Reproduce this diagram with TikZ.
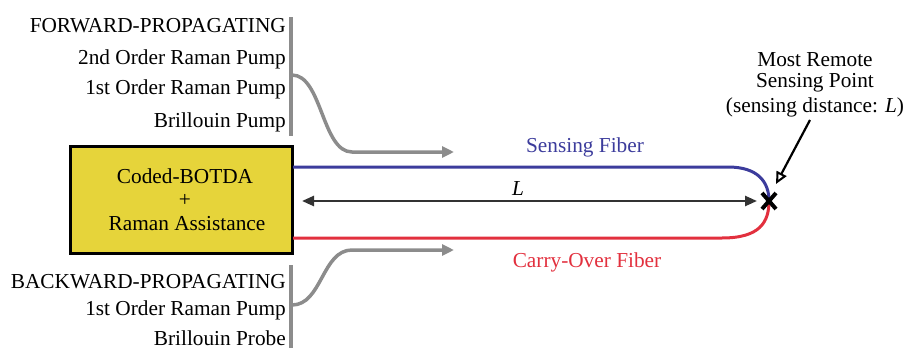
\documentclass[tikz,border=0pt]{standalone}
\usepackage{fontspec}
\setmainfont{Liberation Serif}
\usetikzlibrary{arrows.meta,calc}
\definecolor{boxyellow}{HTML}{E6D43A}
\definecolor{fibblue}{HTML}{3C3C9C}
\definecolor{fibred}{HTML}{E2303E}
\definecolor{pumpgray}{HTML}{8C8C8C}
\tikzset{
  lbl/.style={font=\fontsize{21.3}{25}\selectfont, inner sep=0pt},
  rlbl/.style={lbl, anchor=base east},
  bar/.style={draw=pumpgray, line width=3.5pt},
  pump/.style={draw=pumpgray, line width=3.5pt, -{Triangle[length=12pt,width=11pt]}},
}
\begin{document}
\begin{tikzpicture}[x=1pt,y=-1pt]
\useasboundingbox (0,0) rectangle (905,348);
% forward labels
\node[rlbl] (fwd) at (286,32) {FORWARD-PROPAGATING};
\node[rlbl] (f2) at (286,64) {2nd Order Raman Pump};
\node[rlbl] (f1) at (286,94) {1st Order Raman Pump};
\node[rlbl] (fb) at (286,127) {Brillouin Pump};
\coordinate (ftop) at (291,17);
\coordinate (fbot) at (291,136);
\draw[bar] (ftop) -- (fbot);
\coordinate (fstart) at (292,75);
\coordinate (fend) at (454,152);
\draw[pump] (fstart) .. controls (322,75) and (322,152) .. (352,152) -- (fend);
% box
\node[draw=black, line width=3pt, fill=boxyellow, minimum width=222pt, minimum height=107pt, inner sep=0pt] (box) at (181,200) {};
\node[lbl] (t1) at (185,183) [anchor=base] {Coded-BOTDA};
\node[lbl] (t2) at (185,206) [anchor=base] {+};
\node[lbl] (t3) at (187,230) [anchor=base] {Raman Assistance};
% fibers
\node[inner sep=0pt] (xm) at (769,201) {};
\coordinate (bstart) at (293,167);
\coordinate (rstart) at (293,238);
\draw[fibblue, line width=3pt] (bstart) -- (728,167) .. controls (758,167) and (769,182) .. (xm.center);
\draw[fibred, line width=3pt] (rstart) -- (722,238) .. controls (760,238) and (769,222) .. (xm.center);
\draw[black, line width=4pt] ($(xm)+(-7,-8)$) -- ($(xm)+(7,8)$);
\draw[black, line width=4pt] ($(xm)+(7,-8)$) -- ($(xm)+(-7,8)$);
% L arrow
\coordinate (la) at (302,201);
\coordinate (lb) at (757,201);
\draw[draw=black!80, line width=2.5pt, {Triangle[length=12pt,width=10pt]}-{Triangle[length=12pt,width=10pt]}] (la) -- (lb);
\node[lbl, anchor=base] (L) at (518,195) {\textit{L}};
\node[lbl, anchor=base, text=fibblue] (sf) at (585,152) {Sensing Fiber};
\node[lbl, anchor=base, text=fibred] (cf) at (587,267) {Carry-Over Fiber};
% most remote
\node[lbl, anchor=base] (m1) at (815,66) {Most Remote};
\node[lbl, anchor=base] (m2) at (815,87) {Sensing Point};
\node[lbl, anchor=base] (m3) at (815,112) {(sensing distance: \textit{L})};
\coordinate (pa) at (810,120);
\coordinate (pb) at (776,184);
\draw[black, line width=2.2pt, -{Triangle[open,length=12pt,width=11pt,line width=2pt]}] (pa) -- (pb);
% backward
\node[rlbl] (bwd) at (286,288) {BACKWARD-PROPAGATING};
\node[rlbl] (b1) at (286,315) {1st Order Raman Pump};
\node[rlbl] (bp) at (286,345) {Brillouin Probe};
\coordinate (btop) at (291,265);
\coordinate (bbot) at (291,348);
\draw[bar] (btop) -- (bbot);
\coordinate (bstart2) at (292,305);
\coordinate (bend2) at (454,250);
\draw[pump] (bstart2) .. controls (322,305) and (322,250) .. (352,250) -- (bend2);
\end{tikzpicture}
\end{document}
